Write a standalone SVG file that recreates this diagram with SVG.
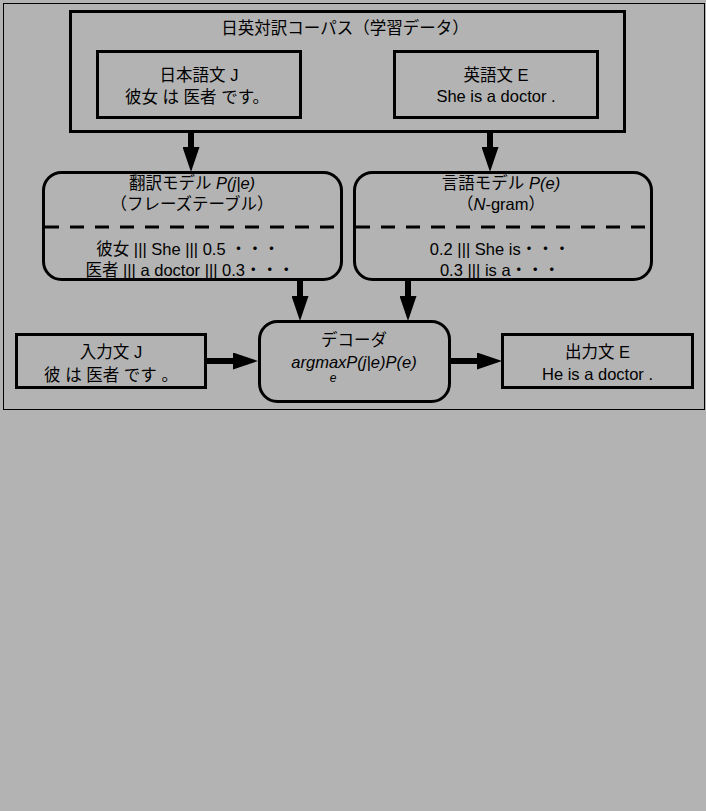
<svg xmlns="http://www.w3.org/2000/svg" width="706" height="811" viewBox="0 0 706 811">
<defs>
<style>
text{font-family:"Liberation Sans","Noto Sans CJK JP",sans-serif;font-size:16.5px;fill:#000;text-anchor:middle}
.it{font-style:italic}
.box{fill:none;stroke:#000;stroke-width:3}
.dash{stroke:#000;stroke-width:3;stroke-dasharray:14 11}
.conn{stroke:#000;stroke-width:6;fill:none}
</style>
<marker id="ah" markerUnits="userSpaceOnUse" markerWidth="25" markerHeight="17" refX="0" refY="8.5" orient="auto">
<path d="M0,0 L25,8.5 L0,17 Z" fill="#000"/>
</marker>
</defs>
<rect x="0" y="0" width="706" height="811" fill="#b3b3b3"/>
<rect x="3.5" y="3.5" width="701" height="406" fill="none" stroke="#000" stroke-width="1"/>

<g id="corpus">
<rect class="box" x="70.5" y="11.5" width="554" height="120"/>
<text x="345" y="34">日英対訳コーパス（学習データ）</text>
</g>
<g id="ja">
<rect class="box" x="97.5" y="51.5" width="203" height="66"/>
<text x="199" y="81">日本語文 J</text>
<text x="197" y="103">彼女 は 医者 です。</text>
</g>
<g id="en">
<rect class="box" x="394.5" y="51.5" width="203" height="66"/>
<text x="496" y="81">英語文 E</text>
<text x="496" y="102">She is a doctor .</text>
</g>
<g id="tm">
<rect class="box" x="43.5" y="172.5" width="298" height="107" rx="18" ry="18"/>
<line class="dash" x1="45" y1="227" x2="340" y2="227"/>
<text x="192" y="189">翻訳モデル <tspan class="it">P(j|e)</tspan></text>
<text x="192" y="210">（フレーズテーブル）</text>
<text x="188" y="255">彼女 ||| She ||| 0.5 ・・・</text>
<text x="190" y="276">医者 ||| a doctor ||| 0.3・・・</text>
</g>
<g id="lm">
<rect class="box" x="354.5" y="172.5" width="297" height="107" rx="18" ry="18"/>
<line class="dash" x1="356" y1="227" x2="650" y2="227"/>
<text x="501" y="189">言語モデル <tspan class="it">P(e)</tspan></text>
<text x="501" y="210">（<tspan class="it">N</tspan>-gram）</text>
<text x="500" y="255">0.2 ||| She is・・・</text>
<text x="500" y="276">0.3 ||| is a・・・</text>
</g>
<g id="decoder">
<rect class="box" x="259.5" y="321.5" width="190" height="80" rx="18" ry="18"/>
<text x="354" y="346">デコーダ</text>
<text class="it" x="354" y="368">argmaxP(j|e)P(e)</text>
<text class="it" x="333" y="382" style="font-size:12px">e</text>
</g>
<g id="input">
<rect class="box" x="16.5" y="334.5" width="189" height="53"/>
<text x="111" y="358">入力文 J</text>
<text x="111" y="381">彼 は 医者 です 。</text>
</g>
<g id="output">
<rect class="box" x="502.5" y="334.5" width="190" height="53"/>
<text x="597.5" y="358">出力文 E</text>
<text x="597.5" y="380">He is a doctor .</text>
</g>
<g id="connectors">
<line class="conn" x1="191" y1="131" x2="191" y2="147" marker-end="url(#ah)"/>
<line class="conn" x1="490" y1="131" x2="490" y2="147" marker-end="url(#ah)"/>
<line class="conn" x1="300" y1="280" x2="300" y2="296" marker-end="url(#ah)"/>
<line class="conn" x1="408" y1="280" x2="408" y2="296" marker-end="url(#ah)"/>
<line class="conn" x1="206" y1="361" x2="233" y2="361" marker-end="url(#ah)"/>
<line class="conn" x1="450" y1="361" x2="477" y2="361" marker-end="url(#ah)"/>
</g>
</svg>
